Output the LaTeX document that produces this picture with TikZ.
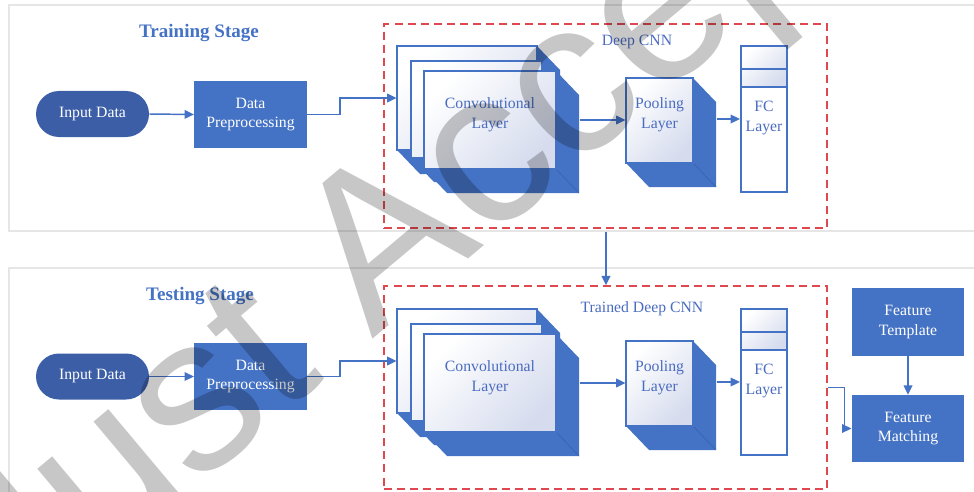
\documentclass[tikz,border=0pt]{standalone}
\usepackage{fontspec}
\setmainfont{Liberation Serif}
\newfontfamily\wmfont{Liberation Sans}
\usetikzlibrary{arrows.meta,calc,fit}
\definecolor{mblue}{HTML}{4472C4}
\definecolor{dblue}{HTML}{3B5EA7}
\definecolor{tblue}{HTML}{4A6CC0}
\definecolor{lav}{HTML}{D6DCEE}
\definecolor{dred}{HTML}{E04850}
\definecolor{pgray}{HTML}{E6E6E6}
\definecolor{sideedge}{HTML}{3A62AE}
\newcommand\mycube[6]{%
  \fill[side] (#4,#3) -- (#4+23,#3+24) -- (#4+23,#5+24) -- (#2+23,#5+24) -- (#2,#5) -- cycle;
  \draw[sideedge, line width=0.5pt] (#4,#5) -- (#4+23,#5+24);
  \node[face, fit={(#2,#3) (#4,#5)}] (#1) {#6};
}
\begin{document}
\begin{tikzpicture}[x=0.75pt,y=-0.75pt,
  every node/.style={font=\fontsize{11.8}{14.3}\selectfont},
  panel/.style={draw=pgray, line width=0.8pt, inner sep=0pt},
  title/.style={font=\fontsize{14.3}{17}\selectfont\bfseries, text=mblue},
  stadium/.style={rectangle, rounded corners=17.25pt, fill=dblue, text=white, minimum width=84.75pt, minimum height=34.5pt, inner sep=0pt},
  bluebox/.style={rectangle, fill=mblue, text=white, align=center, inner sep=0pt, minimum width=84.5pt},
  dashbox/.style={draw=dred, line width=1.1pt, dash pattern=on 6pt off 3.8pt, inner sep=0pt},
  face/.style={draw=mblue, line width=0.8pt, top color=white, bottom color=lav, shading angle=45, inner sep=0pt, text=tblue, align=center, font=\fontsize{11.8}{15}\selectfont},
  side/.style={fill=mblue},
  lbl/.style={text=tblue, align=center, font=\fontsize{11.8}{15}\selectfont},
  fcbox/.style={draw=mblue, line width=1.6pt, inner sep=0pt},
  cell/.style={top color=white, bottom color=lav, shading angle=45},
  arr/.style={draw=mblue, line width=1.1pt, -{Triangle[length=7pt,width=6.5pt]}},
]
\useasboundingbox (0,0) rectangle (974,492);
\clip (0,0) rectangle (974,492);

% stage panels
\node[panel, fit={(9,5) (990,231)}] (stage1) {};
\node[panel, fit={(9,268) (990,510)}] (stage2) {};
\node[title] (t1) at (199,33) {Training Stage};
\node[title] (t2) at (200,296) {Testing Stage};

% ---------- Training ----------
\node[stadium] (in1) at (92.5,114) {Input Data};
\node[bluebox, minimum height=50.25pt] (pre1) at (250.5,114.5) {Data\\Preprocessing};
\node[dashbox, fit={(384,24) (827,228)}] (cnn1) {};
\node[lbl] (cnnl1) at (637,42) {Deep CNN};
\mycube{convA1}{397}{46}{537}{150}{}
\mycube{convB1}{411}{61}{542}{158}{}
\mycube{convC1}{424}{71}{556}{169}{Convolutional\\Layer}
\mycube{pool1}{626}{78}{693}{163}{Pooling\\Layer}
\fill[cell] (741,46) rectangle (787,87);
\draw[mblue, line width=1.1pt] (741,69) -- (787,69) (741,87) -- (787,87);
\node[fcbox, fit={(741,46) (787,192)}] (fc1) {};
\node[lbl] (fcl1) at (764,118) {FC\\Layer};

\draw[arr] (in1.east) -- (pre1.west);
\draw[arr] (pre1.east) -- ++(33,0) |- (convA1.west);
\draw[arr] ($(convC1.east)+(23,0)$) -- (pool1.west |- convC1.east);
\coordinate (pe1) at ($(pool1.east)+(23,0)$);
\draw[arr] (pe1 |- fc1.west) -- (fc1.west);

% ---------- Testing ----------
\node[stadium] (in2) at (92.5,376.5) {Input Data};
\node[bluebox, minimum height=50.25pt] (pre2) at (250.5,376.5) {Data\\Preprocessing};
\node[dashbox, fit={(384,286) (827,489)}] (cnn2) {};
\node[lbl] (cnnl2) at (642,309) {Trained Deep CNN};
\mycube{convA2}{397}{309}{537}{413}{}
\mycube{convB2}{411}{324}{542}{421}{}
\mycube{convC2}{424}{334}{556}{432}{Convolutional\\Layer}
\mycube{pool2}{626}{341}{693}{426}{Pooling\\Layer}
\fill[cell] (741,309) rectangle (787,350);
\draw[mblue, line width=1.1pt] (741,332) -- (787,332) (741,350) -- (787,350);
\node[fcbox, fit={(741,309) (787,455)}] (fc2) {};
\node[lbl] (fcl2) at (764,381) {FC\\Layer};

\node[bluebox, minimum height=51pt] (ft) at (908,322) {Feature\\Template};
\node[bluebox, minimum height=50.25pt] (fm) at (908,428.5) {Feature\\Matching};

\draw[arr] (in2.east) -- (pre2.west);
\draw[arr] (pre2.east) -- ++(33,0) |- (convA2.west);
\draw[arr] ($(convC2.east)+(23,0)$) -- (pool2.west |- convC2.east);
\coordinate (pe2) at ($(pool2.east)+(23,0)$);
\draw[arr] (pe2 |- fc2.west) -- (fc2.west);
\draw[arr] (ft.south) -- (fm.north);
\draw[arr] (cnn2.east) -- ++(17,0) |- (fm.west);

% between stages
\coordinate (vx) at (606,0);
\draw[arr] (stage1.south -| vx) -- (cnn2.north -| vx);

% watermark
\node[rotate=40, anchor=base west, inner sep=0pt, text=black, text opacity=0.22,
      font=\wmfont\fontsize{165}{170}\selectfont] (wm) at (17,638) {Just Accepted};
\end{tikzpicture}
\end{document}
